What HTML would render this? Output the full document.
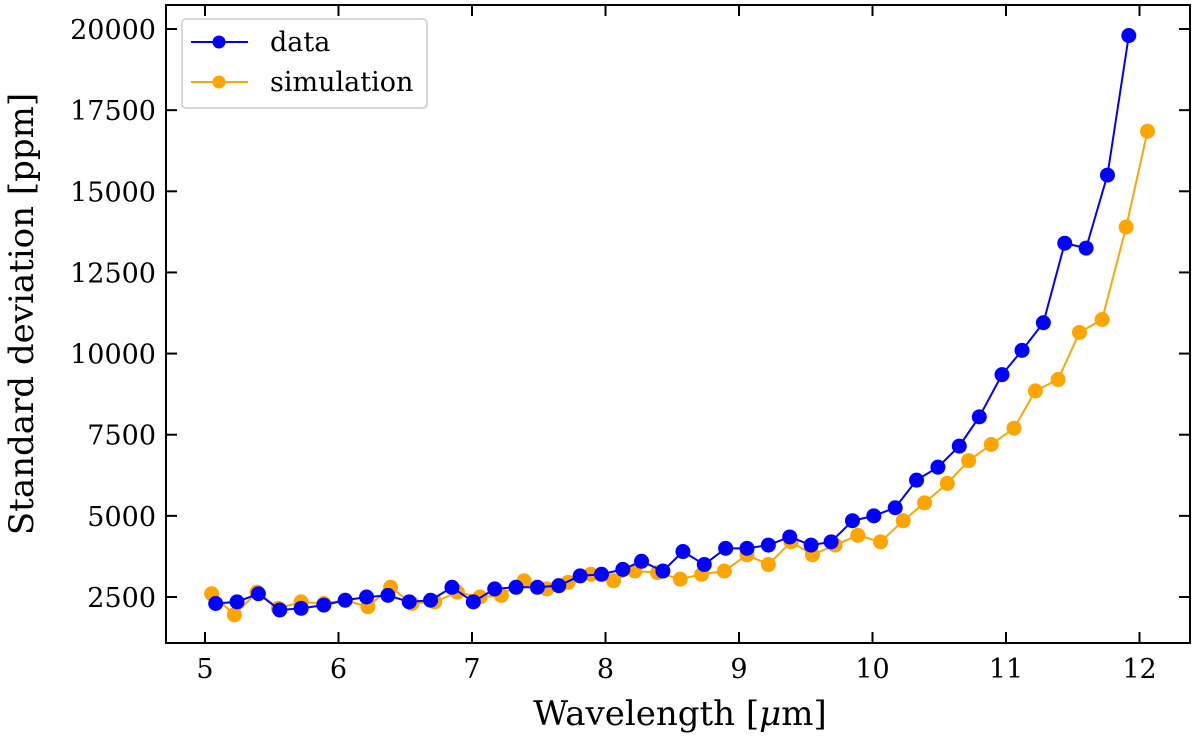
<!DOCTYPE html>
<html><head><meta charset="utf-8"><style>
body{margin:0;background:#fff}
svg{display:block}
text{font-family:"DejaVu Serif","Liberation Serif",serif;fill:#000}
</style></head><body>
<svg id="chart" width="1200" height="737"></svg>
<script>
const dataX=[5.08,5.24,5.40,5.56,5.72,5.89,6.05,6.21,6.37,6.53,6.69,6.85,7.01,7.17,7.33,7.49,7.65,7.81,7.97,8.13,8.27,8.43,8.58,8.74,8.90,9.06,9.22,9.38,9.54,9.69,9.85,10.01,10.17,10.33,10.49,10.65,10.80,10.97,11.12,11.28,11.44,11.60,11.76,11.92];
const dataY=[2300,2350,2600,2100,2150,2250,2400,2500,2550,2350,2400,2800,2350,2750,2800,2800,2850,3150,3200,3350,3600,3300,3900,3500,4000,4000,4100,4350,4100,4200,4850,5000,5250,6100,6500,7150,8050,9350,10100,10950,13400,13250,15500,19800];
const simX=[5.05,5.22,5.39,5.55,5.72,5.89,6.05,6.22,6.39,6.55,6.72,6.89,7.06,7.22,7.39,7.56,7.72,7.89,8.06,8.22,8.39,8.56,8.72,8.89,9.06,9.22,9.39,9.55,9.72,9.89,10.06,10.23,10.39,10.56,10.72,10.89,11.06,11.22,11.39,11.55,11.72,11.90,12.06];
const simY=[2600,1950,2650,2150,2350,2300,2400,2200,2800,2300,2350,2650,2500,2550,3000,2750,2950,3200,3000,3300,3250,3050,3200,3300,3800,3500,4200,3800,4100,4400,4200,4850,5400,6000,6700,7200,7700,8850,9200,10650,11050,13900,16850];
const xTicks=[5,6,7,8,9,10,11,12];
const yTicks=[2500,5000,7500,10000,12500,15000,17500,20000];

const NS="http://www.w3.org/2000/svg";
const svg=document.getElementById('chart');
const L=166,R=1190,T=5,B=643;
const X=v=>205+(v-5)*133.5;
const Y=v=>597-(v-2500)/2500*81.14;
function mk(tag,attrs,parent){const e=document.createElementNS(NS,tag);for(const k in attrs)e.setAttribute(k,attrs[k]);(parent||svg).appendChild(e);return e;}

const axes=mk('g',{});


xTicks.forEach(t=>{
  const x=X(t);
  const g=mk('g',{},axes);
  
  
  mk('line',{x1:x,x2:x,y1:B,y2:B-11,stroke:'#000','stroke-width':2},g);
  mk('line',{x1:x,x2:x,y1:T,y2:T+11,stroke:'#000','stroke-width':2},g);
  const tx=mk('text',{x:x,y:B+35,'text-anchor':'middle','font-size':27},g);
  tx.textContent=t;
});
yTicks.forEach(t=>{
  const y=Y(t);
  const g=mk('g',{},axes);
  
  
  mk('line',{x1:L,x2:L+11,y1:y,y2:y,stroke:'#000','stroke-width':2},g);
  mk('line',{x1:R,x2:R-11,y1:y,y2:y,stroke:'#000','stroke-width':2},g);
  const tx=mk('text',{x:L-10,y:y+10,'text-anchor':'end','font-size':27},g);
  tx.textContent=t;
});

function series(xs,ys,color,name){
  const g=mk('g',{});
  
  
  const pts=xs.map((x,i)=>X(x)+','+Y(ys[i])).join(' ');
  mk('polyline',{points:pts,fill:'none',stroke:color,'stroke-width':2},g);
  xs.forEach((x,i)=>{
    const c=mk('circle',{cx:X(x),cy:Y(ys[i]),r:7.5,fill:color},g);
    
    
  });
}
series(simX,simY,'#ffa500','simulation');
series(dataX,dataY,'#0000ff','data');

const frame=mk('rect',{x:L,y:T,width:R-L,height:B-T,fill:'none',stroke:'#000','stroke-width':2});



const xl=mk('text',{x:680,y:725,'text-anchor':'middle','font-size':34});


xl.innerHTML='Wavelength [<tspan font-style="italic">μ</tspan>m]';
const yl=mk('text',{x:0,y:0,'text-anchor':'middle','font-size':34,transform:'translate(33,314) rotate(-90)'});


yl.textContent='Standard deviation [ppm]';

const lg=mk('g',{});


mk('rect',{x:182,y:19,width:245,height:89,rx:4,fill:'#fff',stroke:'#ccc','stroke-width':1.5},lg);
[['data','#0000ff',42],['simulation','#ffa500',82]].forEach(([n,c,y])=>{
  const e=mk('g',{},lg);
  
  
  mk('line',{x1:191,x2:248,y1:y,y2:y,stroke:c,'stroke-width':2},e);
  mk('circle',{cx:219,cy:y,r:6.5,fill:c},e);
  const t=mk('text',{x:270,y:y+9,'font-size':27},e);
  t.textContent=n;
});
</script>
</body></html>
